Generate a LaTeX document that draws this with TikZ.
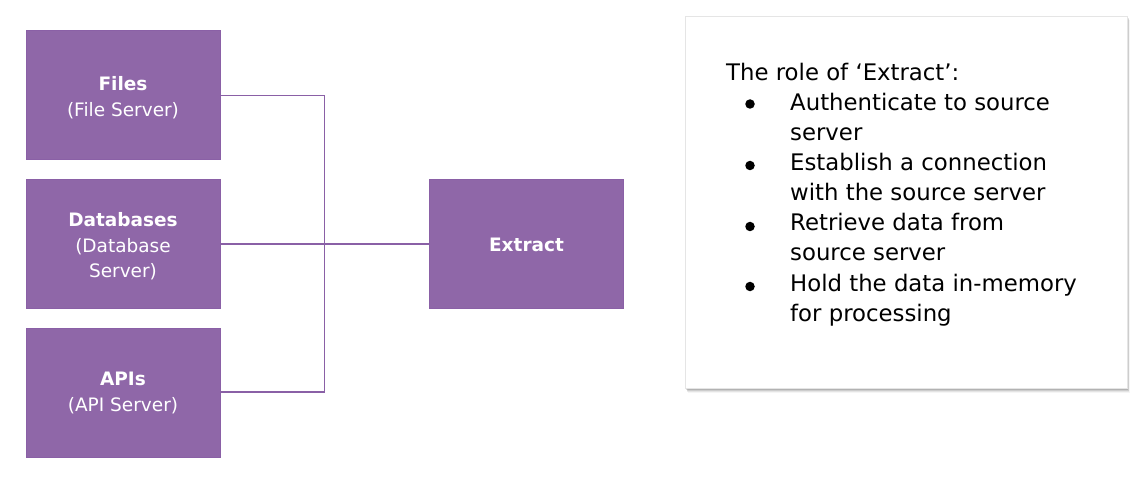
\documentclass[tikz,border=0pt]{standalone}
\usepackage{fontspec}
\setmainfont{DejaVu Sans}
\begin{document}
\begin{tikzpicture}[x=1pt,y=-1pt,
  box/.style={draw=boxedge,fill=boxfill,line width=1pt,minimum width=194pt,minimum height=129pt,inner sep=0pt},
  btext/.style={text=white,inner sep=0pt,anchor=base,font=\fontsize{18.5}{25.5}\selectfont},
  conn/.style={draw=boxedge,line width=1.3pt},
  panel/.style={fill=white,draw=black!10,line width=0.5pt},
  ptext/.style={anchor=base west,inner sep=0pt,font=\fontsize{22.8}{30}\selectfont},
  bullet/.style={circle,fill=black,inner sep=0pt,minimum size=9.5pt}]
\definecolor{boxfill}{RGB}{143,103,168}
\definecolor{boxedge}{RGB}{138,96,166}
\useasboundingbox (0,0) rectangle (1148,486);
\node[box] (files) at (123,95.5) {};
\node[box] (db) at (123,244) {};
\node[box] (api) at (123,393) {};
\node[box] (ext) at (526.5,244) {};
\foreach \n/\y/\t in {files/91/{\textbf{Files}},files/117/{(File Server)},
                      db/227/{\textbf{Databases}},db/252.5/{(Database},db/278/{Server)},
                      api/385/{\textbf{APIs}},api/411/{(API Server)},
                      ext/252/{\textbf{Extract}}}{
  \node[btext] at (\n.center |- 0,\y) {\t};
}
\coordinate (j1) at (324.5,95.5);
\coordinate (j3) at (324.5,392);
\draw[conn] (files.east |- j1) -- (j1) -- (j3) -- (api.east |- j3);
\draw[conn] (db.east) -- (ext.west);
% panel with shadow
\foreach \i/\o in {1/0.16,2/0.13,3/0.10,4/0.07,5/0.04}{
  \fill[black,opacity=\o] (685+\i*0.5,16+\i*0.8) rectangle (1126.5+\i*0.7,388+\i*1);
}
\node[panel,minimum width=442pt,minimum height=372pt,inner sep=0pt] (pnl) at (906,202) {};
\node[ptext] (title) at (726,81) {The role of ‘Extract’:};
\foreach \y/\t in {111/{Authenticate to source},141/{server},171/{Establish a connection},201/{with the source server},
                   231/{Retrieve data from},261/{source server},291/{Hold the data in-memory},321/{for processing}}{
  \node[ptext] at (790,\y) {\t};
}
\foreach \y in {104,165.5,226.5,286.5}{
  \node[bullet] at (750,\y) {};
}
\end{tikzpicture}
\end{document}
